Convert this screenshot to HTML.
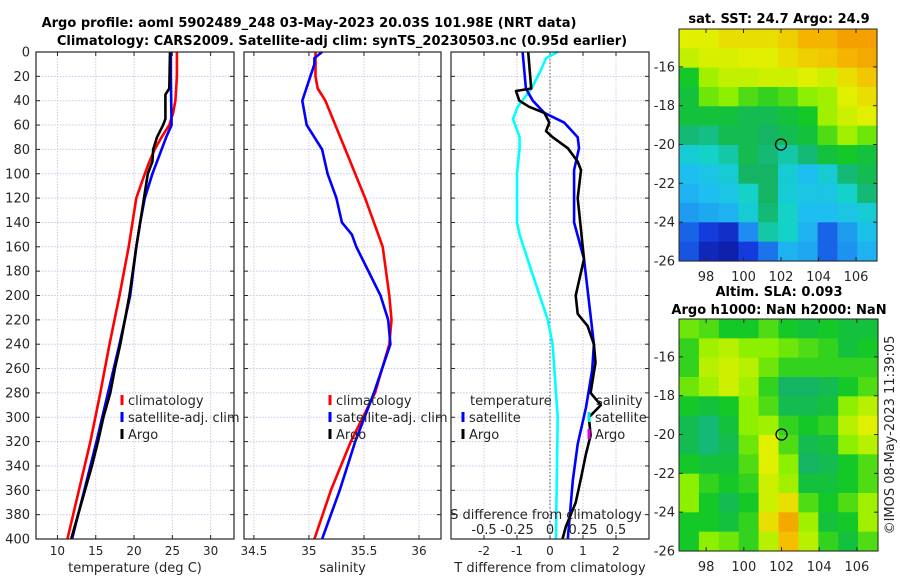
<!DOCTYPE html>
<html><head><meta charset="utf-8"><style>
body{margin:0;background:#fff}
svg{display:block;font-family:"DejaVu Sans","Liberation Sans",sans-serif}
</style></head><body>
<svg id="c" width="900" height="580" viewBox="0 0 900 580" xmlns="http://www.w3.org/2000/svg">
<g id="g"></g>
</svg>
<script>
// ---------- data ----------
const tempDepthClim = [0,20,40,50,60,70,80,90,100,120,140,160,180,200,240,280,320,360,400];
const tempClim = [25.6,25.6,25.4,25.1,24.6,23.6,22.7,22.0,21.4,20.3,19.8,19.3,18.7,18.1,16.8,15.6,14.3,12.8,11.3];
const tempDepthSat = [0,20,40,60,70,80,100,120,140,160,200,240,280,320,360,400];
const tempSat = [24.8,24.8,24.85,24.9,24.2,23.6,22.4,21.4,20.8,20.3,19.5,18.1,16.6,15.1,13.5,11.9];
const tempDepthArgo = [0,30,35,55,60,70,80,90,100,120,140,160,200,220,240,260,280,300,320,340,360,380,400];
const tempArgo = [24.7,24.6,24.1,24.1,23.8,23.0,22.5,22.4,21.8,21.3,20.8,20.3,19.4,18.8,18.2,17.5,16.9,16.0,15.3,14.5,13.6,12.7,11.8];

const salDepthClim = [0,20,30,40,60,80,100,120,150,160,200,220,240,280,320,360,400];
const salClim = [35.06,35.06,35.08,35.15,35.24,35.33,35.42,35.51,35.63,35.67,35.73,35.75,35.73,35.6,35.38,35.2,35.05];
const salDepthSat = [0,5,10,40,60,80,100,120,140,150,160,200,220,240,280,320,360,400];
const salSat = [35.12,35.05,35.05,34.94,34.98,35.12,35.17,35.25,35.3,35.39,35.43,35.65,35.72,35.74,35.59,35.42,35.28,35.12];

const tdDepthSat = [0,30,40,50,58,70,79,97,140,170,240,261,292,322,352,400];
const tdSat = [-0.83,-0.73,-0.52,-0.17,0.43,0.84,0.88,0.73,0.73,1.03,1.33,1.28,1.09,0.84,0.69,0.54];
const tdDepthArgo = [0,30,32,40,45,50,58,65,70,79,90,97,120,170,200,215,225,240,255,280,290,300,315,330,350,370,390,400];
const tdArgo = [-0.66,-0.57,-1.03,-0.93,-0.63,-0.17,-0.02,-0.12,0.08,0.54,0.84,0.94,0.84,1.03,0.78,0.84,1.14,1.33,1.38,1.23,1.54,1.18,1.23,1.09,0.94,0.78,0.48,0.38];
const sdDepthSat = [0,5,15,30,45,55,70,79,100,140,150,180,220,240,300,400];
const sdSat = [0.058,-0.03,-0.07,-0.14,-0.245,-0.28,-0.23,-0.23,-0.25,-0.25,-0.23,-0.14,-0.017,0.02,0.058,0.045];

const depthTicks = [0,20,40,60,80,100,120,140,160,180,200,220,240,260,280,300,320,340,360,380,400];
const tempTicks = [10,15,20,25,30];
const salTicks = [34.5,35,35.5,36];
const tdTicks = [-2,-1,0,1,2];
const sdTicks = [-0.5,-0.25,0,0.25,0.5];
const sdTickLabels = ["-0.5","-0.25","0","0.25","0.5"];
const latTicks = [-16,-18,-20,-22,-24,-26];
const lonTicks = [98,100,102,104,106];

const sstGrid = [
[0.78,0.78,0.8,0.8,0.8,0.82,0.85,0.85,0.87,0.87],
[0.75,0.77,0.77,0.78,0.78,0.8,0.82,0.83,0.85,0.86],
[0.62,0.72,0.75,0.75,0.76,0.76,0.78,0.76,0.8,0.83],
[0.6,0.68,0.7,0.66,0.64,0.66,0.7,0.72,0.78,0.8],
[0.6,0.6,0.6,0.58,0.58,0.6,0.62,0.72,0.76,0.78],
[0.55,0.54,0.58,0.58,0.56,0.58,0.6,0.66,0.72,0.68],
[0.48,0.5,0.52,0.58,0.55,0.52,0.55,0.6,0.62,0.6],
[0.44,0.46,0.48,0.56,0.56,0.48,0.44,0.48,0.55,0.58],
[0.42,0.44,0.46,0.5,0.56,0.48,0.46,0.46,0.5,0.55],
[0.38,0.4,0.42,0.48,0.55,0.5,0.44,0.44,0.46,0.48],
[0.3,0.25,0.22,0.35,0.52,0.5,0.42,0.3,0.38,0.45],
[0.28,0.2,0.18,0.25,0.32,0.42,0.4,0.3,0.36,0.42]];
const slaGrid = [
[0.68,0.66,0.62,0.62,0.66,0.62,0.6,0.62,0.6,0.6],
[0.64,0.72,0.74,0.7,0.7,0.68,0.66,0.64,0.6,0.62],
[0.64,0.74,0.76,0.74,0.68,0.64,0.64,0.64,0.64,0.64],
[0.68,0.72,0.76,0.72,0.64,0.56,0.56,0.58,0.62,0.66],
[0.62,0.6,0.62,0.7,0.66,0.58,0.58,0.6,0.7,0.74],
[0.58,0.55,0.6,0.7,0.72,0.64,0.62,0.64,0.74,0.78],
[0.58,0.55,0.58,0.68,0.78,0.66,0.58,0.6,0.7,0.74],
[0.62,0.6,0.6,0.66,0.78,0.7,0.56,0.58,0.62,0.66],
[0.7,0.64,0.62,0.64,0.76,0.72,0.6,0.6,0.62,0.66],
[0.7,0.62,0.58,0.62,0.76,0.8,0.66,0.62,0.66,0.72],
[0.62,0.62,0.6,0.64,0.8,0.86,0.72,0.6,0.62,0.72],
[0.62,0.7,0.68,0.64,0.74,0.84,0.74,0.64,0.6,0.66]];
const argoLon = 102, argoLat = -20;

// ---------- helpers ----------
const NS="http://www.w3.org/2000/svg";
const G=document.getElementById('g');
function el(tag,attrs,parent){const e=document.createElementNS(NS,tag);for(const k in attrs)e.setAttribute(k,attrs[k]);(parent||G).appendChild(e);return e;}
function txt(x,y,s,attrs,name){const t=el('text',Object.assign({x:x,y:y,'font-size':12,fill:'#262626'},attrs||{}));t.textContent=s;


return t;}

const PT=52, PB=539;
const yD = d => PT + d*(PB-PT)/400;
const panels=[
 {x0:36,x1:234,v0:7.2,v1:33.05},
 {x0:244,x1:441,v0:34.41,v1:36.2},
 {x0:451,x1:649,v0:-3.0,v1:3.0}];
function xs(p,v){return p.x0+(v-p.v0)*(p.x1-p.x0)/(p.v1-p.v0);}

function drawLine(p,depths,vals,color,name,scale){
  let d='';
  for(let i=0;i<vals.length;i++){const x=xs(p,vals[i]*(scale||1));const y=yD(depths[i]);d+=(i?'L':'M')+x.toFixed(1)+','+y.toFixed(1);}
  const path=el('path',{d:d,fill:'none',stroke:color,'stroke-width':2.6,'stroke-linejoin':'round'});
  
  
}

function drawPanel(p,ticks,labels,name,xtitle){
  const r=el('rect',{x:p.x0,y:PT,width:p.x1-p.x0,height:PB-PT,fill:'#fff'});
  
  
  depthTicks.forEach(d=>{ if(d>0&&d<400) el('line',{x1:p.x0,x2:p.x1,y1:yD(d),y2:yD(d),stroke:'#c4c8e8','stroke-width':1,'stroke-dasharray':'1.5,1.5'}); });
  ticks.forEach(v=>{const x=xs(p,v);el('line',{x1:x,x2:x,y1:PT,y2:PB,stroke:'#d8c8d8','stroke-width':1,'stroke-dasharray':'1.5,1.5'});});
  ticks.forEach((v,i)=>{const x=xs(p,v);
    el('line',{x1:x,x2:x,y1:PB,y2:PB-4,stroke:'#262626'});el('line',{x1:x,x2:x,y1:PT,y2:PT+4,stroke:'#262626'});
    txt(x,555,labels[i],{'text-anchor':'middle'},name+'-x-tick');});
  depthTicks.forEach(d=>{el('line',{x1:p.x0,x2:p.x0+4,y1:yD(d),y2:yD(d),stroke:'#262626'});el('line',{x1:p.x1,x2:p.x1-4,y1:yD(d),y2:yD(d),stroke:'#262626'});});
  txt((p.x0+p.x1)/2,572,xtitle,{'text-anchor':'middle','font-size':13},name+'-x-axis-title');
}
function drawBorder(p,name){
  const b=el('rect',{x:p.x0,y:PT,width:p.x1-p.x0,height:PB-PT,fill:'none',stroke:'#262626','stroke-width':1.2});
  
  
}
function legendEntry(x,y,color,label,name){
  el('line',{x1:x,x2:x,y1:y-10,y2:y,stroke:color,'stroke-width':3});
  txt(x+6,y,label,{'font-size':13},name);
}

// depth tick labels
depthTicks.forEach(d=>txt(30,yD(d)+4.5,String(d),{'text-anchor':'end','font-size':13},'y-tick'));

// panel 1 temperature
drawPanel(panels[0],tempTicks,tempTicks.map(String),'temperature-panel','temperature (deg C)');
drawLine(panels[0],tempDepthClim,tempClim,'#ff0000','temp-climatology-line');
drawLine(panels[0],tempDepthSat,tempSat,'#0000ff','temp-satellite-line');
drawLine(panels[0],tempDepthArgo,tempArgo,'#000000','temp-argo-line');
drawBorder(panels[0],'temperature-panel');

// panel 2 salinity
drawPanel(panels[1],salTicks,salTicks.map(String),'salinity-panel','salinity');
drawLine(panels[1],salDepthClim,salClim,'#ff0000','sal-climatology-line');
drawLine(panels[1],salDepthSat,salSat,'#0000ff','sal-satellite-line');
drawBorder(panels[1],'salinity-panel');

// legends 1 & 2
[[122,'temperature'],[330,'salinity']].forEach(([lx,nm])=>{
  legendEntry(lx,405,'#ff0000','climatology',nm+'-legend-climatology');
  legendEntry(lx,422,'#0000ff','satellite-adj. clim',nm+'-legend-satellite');
  legendEntry(lx,439,'#000000','Argo',nm+'-legend-argo');
});

// panel 3 differences
drawPanel(panels[2],tdTicks,tdTicks.map(String),'difference-panel','T difference from climatology');
const zx=xs(panels[2],0);
el('line',{x1:zx,x2:zx,y1:PT,y2:PB,stroke:'#555','stroke-width':1,'stroke-dasharray':'1.5,2'});
drawLine(panels[2],sdDepthSat,sdSat,'#00ffff','sal-diff-satellite-line',4);
drawLine(panels[2],tdDepthSat,tdSat,'#0000ff','temp-diff-satellite-line');
drawLine(panels[2],tdDepthArgo,tdArgo,'#000000','temp-diff-argo-line');
drawBorder(panels[2],'difference-panel');
txt(470,405,'temperature',{'font-size':13},'temp-legend-header');
legendEntry(463,422,'#0000ff','satellite','diff-legend-temp-satellite');
legendEntry(463,439,'#000000','Argo','diff-legend-temp-argo');
txt(596,405,'salinity',{'font-size':13},'sal-legend-header');
legendEntry(589,422,'#00e5e5','satellite','diff-legend-sal-satellite');
legendEntry(589,439,'#e000e0','Argo','diff-legend-sal-argo');
txt(546,519,'S difference from climatology',{'text-anchor':'middle','font-size':13},'s-diff-axis-title');
sdTicks.forEach((v,i)=>txt(xs(panels[2],v*4),534,sdTickLabels[i],{'text-anchor':'middle','font-size':13},'s-diff-tick'));

// titles
txt(309,27,'Argo profile: aoml 5902489_248 03-May-2023 20.03S 101.98E (NRT data)',{'text-anchor':'middle','font-size':13,'font-weight':'bold',fill:'#000'},'main-title-line1');
txt(342,45,'Climatology: CARS2009. Satellite-adj clim: synTS_20230503.nc (0.95d earlier)',{'text-anchor':'middle','font-size':13,'font-weight':'bold',fill:'#000'},'main-title-line2');

// ---------- maps ----------
const cstops=[[0.15,[10,20,150]],[0.25,[20,60,220]],[0.35,[30,140,240]],[0.44,[30,190,240]],[0.5,[20,210,200]],[0.56,[20,180,100]],[0.62,[20,200,40]],[0.7,[140,240,0]],[0.78,[225,240,0]],[0.84,[245,190,0]],[0.9,[240,130,0]]];
function cmap(v){
  if(v<=cstops[0][0])return 'rgb('+cstops[0][1]+')';
  for(let i=1;i<cstops.length;i++){if(v<=cstops[i][0]){const a=cstops[i-1],b=cstops[i];const t=(v-a[0])/(b[0]-a[0]);
    return 'rgb('+a[1].map((c,k)=>Math.round(c+(b[1][k]-c)*t)).join(',')+')';}}
  return 'rgb('+cstops[cstops.length-1][1]+')';
}
function drawMap(grid,mx0,my0,mx1,my1,name){
  const lon0=96.56,lon1=107.12,lat0=-14.05,lat1=-26;
  const lx=v=>mx0+(v-lon0)*(mx1-mx0)/(lon1-lon0);
  const ly=v=>my0+(v-lat0)*(my1-my0)/(lat1-lat0);
  const rows=grid.length,cols=grid[0].length;
  const cw=(mx1-mx0)/cols,ch=(my1-my0)/rows;
  grid.forEach((row,r)=>row.forEach((v,c)=>{
    const rc=el('rect',{x:(mx0+c*cw).toFixed(2),y:(my0+r*ch).toFixed(2),width:(cw+0.6).toFixed(2),height:(ch+0.6).toFixed(2),fill:cmap(v)});
    
    
  }));
  const b=el('rect',{x:mx0,y:my0,width:mx1-mx0,height:my1-my0,fill:'none',stroke:'#262626','stroke-width':1});
  
  
  latTicks.forEach(v=>{const y=ly(v);el('line',{x1:mx0,x2:mx0+4,y1:y,y2:y,stroke:'#262626'});el('line',{x1:mx1,x2:mx1-4,y1:y,y2:y,stroke:'#262626'});
    txt(mx0-4,y+4.5,String(v),{'text-anchor':'end','font-size':13},name+'-lat-tick');});
  lonTicks.forEach(v=>{const x=lx(v);el('line',{x1:x,x2:x,y1:my1,y2:my1-4,stroke:'#262626'});el('line',{x1:x,x2:x,y1:my0,y2:my0+4,stroke:'#262626'});
    txt(x,my1+20,String(v),{'text-anchor':'middle','font-size':13},name+'-lon-tick');});
  const c=el('circle',{cx:lx(argoLon),cy:ly(argoLat),r:5.5,fill:'none',stroke:'#000','stroke-width':1.3});
  
  
}
drawMap(sstGrid,679,29,877,261,'sst-map');
drawMap(slaGrid,679,319,878,551,'sla-map');
txt(779,23,'sat. SST: 24.7 Argo: 24.9',{'text-anchor':'middle','font-size':13,'font-weight':'bold',fill:'#000'},'sst-map-title');
txt(779,296,'Altim. SLA: 0.093',{'text-anchor':'middle','font-size':13,'font-weight':'bold',fill:'#000'},'sla-map-title-line1');
txt(779,314,'Argo h1000: NaN h2000: NaN',{'text-anchor':'middle','font-size':13,'font-weight':'bold',fill:'#000'},'sla-map-title-line2');
txt(0,0,'©IMOS 08-May-2023 11:39:05',{'text-anchor':'middle','font-size':13,transform:'translate(894,435) rotate(-90)'},'copyright-timestamp');
</script>
</body></html>
